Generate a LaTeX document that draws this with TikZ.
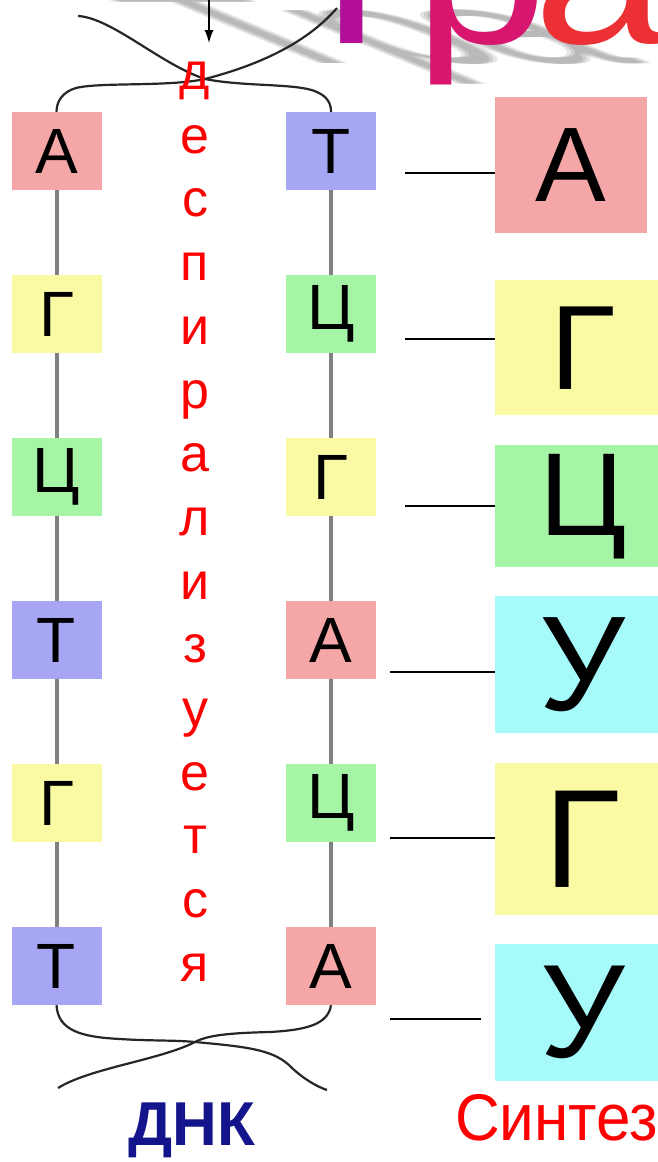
\documentclass[tikz,border=0pt]{standalone}
\usepackage{fontspec}
\setmainfont{Liberation Sans}
\newfontfamily\ttlfont[FakeStretch=1.2]{Liberation Sans}
\newfontfamily\narrowfont[FakeStretch=0.94]{Liberation Sans}
\usetikzlibrary{arrows,arrows.meta,positioning,calc}
\definecolor{nA}{RGB}{245,166,166}
\definecolor{nT}{RGB}{166,166,245}
\definecolor{nG}{RGB}{250,250,165}
\definecolor{nC}{RGB}{166,245,166}
\definecolor{nU}{RGB}{166,250,250}
\definecolor{dnablue}{RGB}{20,20,140}
\definecolor{ttlA}{RGB}{178,14,152}
\definecolor{ttlB}{RGB}{216,22,112}
\definecolor{ttlC}{RGB}{236,48,52}
\tikzstyle{nucl} = [minimum width=90pt, minimum height=78pt, inner sep=0pt, font=\fontsize{64}{64}\selectfont]
\tikzstyle{rna} = [anchor=north west, inner sep=0pt, minimum width=175pt]
\tikzstyle{bond} = [draw=gray, line width=4pt]
\tikzstyle{strand} = [draw=black!85, line width=2.2pt]
\tikzstyle{link} = [draw=black, line width=1.5pt]
\tikzstyle{spell} = [text=red, anchor=base, inner sep=0pt, font=\fontsize{52}{52}\selectfont]
\tikzstyle{ttl} = [anchor=base, inner sep=0pt, font=\ttlfont\fontsize{200}{200}\selectfont]

\begin{document}
\begin{tikzpicture}[x=1pt, y=-1pt]
  \clip (0,0) rectangle (658,1162);

  % title with its soft shadow
  \foreach \o in {-4,0,4} {
    \begin{scope}[shift={(\o,63)}]
      \node [ttl, text=black, opacity=0.1, transform shape, yscale=0.5, xslant=-1.2] at (333,0) {Т};
      \node [ttl, text=black, opacity=0.1, transform shape, yscale=0.5, xslant=-1.2] at (462,0) {р};
      \node [ttl, text=black, opacity=0.1, transform shape, yscale=0.5, xslant=-1.2] at (581,0) {а};
    \end{scope}
  }
  \node [ttl, text=ttlA] (t1) at (352,43) {Т};
  \node [ttl, text=ttlB] (t2) at (481,43) {р};
  \node [ttl, text=ttlC] (t3) at (600,43) {а};

  % DNA, left strand
  \node [nucl, fill=nA] (l1) at (56.5,151) {А};
  \node [nucl, fill=nG] (l2) at (56.5,314) {Г};
  \node [nucl, fill=nC] (l3) at (56.5,477) {Ц};
  \node [nucl, fill=nT] (l4) at (56.5,640) {Т};
  \node [nucl, fill=nG] (l5) at (56.5,803) {Г};
  \node [nucl, fill=nT] (l6) at (56.5,966) {Т};
  % DNA, right strand
  \node [nucl, fill=nT] (r1) at (331,151) {Т};
  \node [nucl, fill=nC] (r2) at (331,314) {Ц};
  \node [nucl, fill=nG] (r3) at (331,477) {Г};
  \node [nucl, fill=nA] (r4) at (331,640) {А};
  \node [nucl, fill=nC] (r5) at (331,803) {Ц};
  \node [nucl, fill=nA] (r6) at (331,966) {А};

  \draw [bond] (l1) -- (l2);
  \draw [bond] (l2) -- (l3);
  \draw [bond] (l3) -- (l4);
  \draw [bond] (l4) -- (l5);
  \draw [bond] (l5) -- (l6);
  \draw [bond] (r1) -- (r2);
  \draw [bond] (r2) -- (r3);
  \draw [bond] (r3) -- (r4);
  \draw [bond] (r4) -- (r5);
  \draw [bond] (r5) -- (r6);

  % twisted ends
  \coordinate (tl) at (78,16);
  \coordinate (tr) at (337,8);
  \coordinate (bl) at (58,1088);
  \coordinate (br) at (327,1090);
  \draw [strand] (tl) .. controls (112,18) and (160,64) .. (205,79)
    .. controls (245,87) and (298,83) .. (317,92) .. controls (328,97) and (331,104) .. (r1.north);
  \draw [strand] (tr) .. controls (305,45) and (255,66) .. (205,79)
    .. controls (168,87) and (100,82) .. (76,88) .. controls (62,92) and (56.5,102) .. (l1.north);
  \draw [strand] (l6.south) .. controls (58,1030) and (80,1037) .. (120,1039)
    .. controls (150,1041) and (175,1040) .. (195,1042) .. controls (250,1047) and (275,1050) .. (292,1068)
    .. controls (305,1080) and (318,1087) .. (br);
  \draw [strand] (r6.south) .. controls (328,1025) and (305,1030) .. (270,1032)
    .. controls (230,1033) and (208,1035) .. (195,1042) .. controls (160,1060) and (90,1068) .. (bl);

  % unwinding
  \coordinate (arr) at (209,0);
  \coordinate (arrend) at (209,43);
  \draw [-{Latex[length=13pt,width=9pt]}, line width=1.3pt] (arr) -- (arrend);
  \foreach \ch [count=\i from 0] in {д,е,с,п,и,р,а,л,и,з,у,е,т,с,я}
    \node [spell] (d\i) at (195,{89.5+63.7*\i}) {\ch};

  % mRNA
  \node [rna, fill=nA, minimum width=152pt, minimum height=136pt, font=\fontsize{106}{106}\selectfont] (m1) at (495,97) {А};
  \node [rna, fill=nG, minimum height=135pt, font=\fontsize{120}{120}\selectfont] (m2) at (495,280) {Г};
  \node [rna, fill=nC, minimum height=122pt, font=\fontsize{118}{118}\selectfont] (m3) at (495,445) {Ц};
  \node [rna, fill=nU, minimum height=137pt, font=\fontsize{135}{135}\selectfont] (m4) at (495,596) {У};
  \node [rna, fill=nG, minimum height=152pt, font=\fontsize{140}{140}\selectfont] (m5) at (495,763) {Г};
  \node [rna, fill=nU, minimum height=137pt, font=\fontsize{133}{133}\selectfont] (m6) at (495,944) {У};

  \coordinate (s1) at (405,173);
  \coordinate (s2) at (405,339);
  \coordinate (s3) at (405,506);
  \coordinate (s4) at (390,672);
  \coordinate (s5) at (390,838);
  \coordinate (s6) at (390,1019);
  \coordinate (e6) at (481,1019);
  \draw [link] (s1) -- (s1 -| m1.west);
  \draw [link] (s2) -- (s2 -| m2.west);
  \draw [link] (s3) -- (s3 -| m3.west);
  \draw [link] (s4) -- (s4 -| m4.west);
  \draw [link] (s5) -- (s5 -| m5.west);
  \draw [link] (s6) -- (e6);

  \node [anchor=base, inner sep=0pt, text=dnablue, font=\bfseries\fontsize{62}{62}\selectfont] (dna) at (192,1145) {ДНК};
  \node [anchor=base west, inner sep=0pt, text=red, font=\narrowfont\fontsize{66}{66}\selectfont] (syn) at (455,1140) {Синтез};
\end{tikzpicture}
\end{document}
